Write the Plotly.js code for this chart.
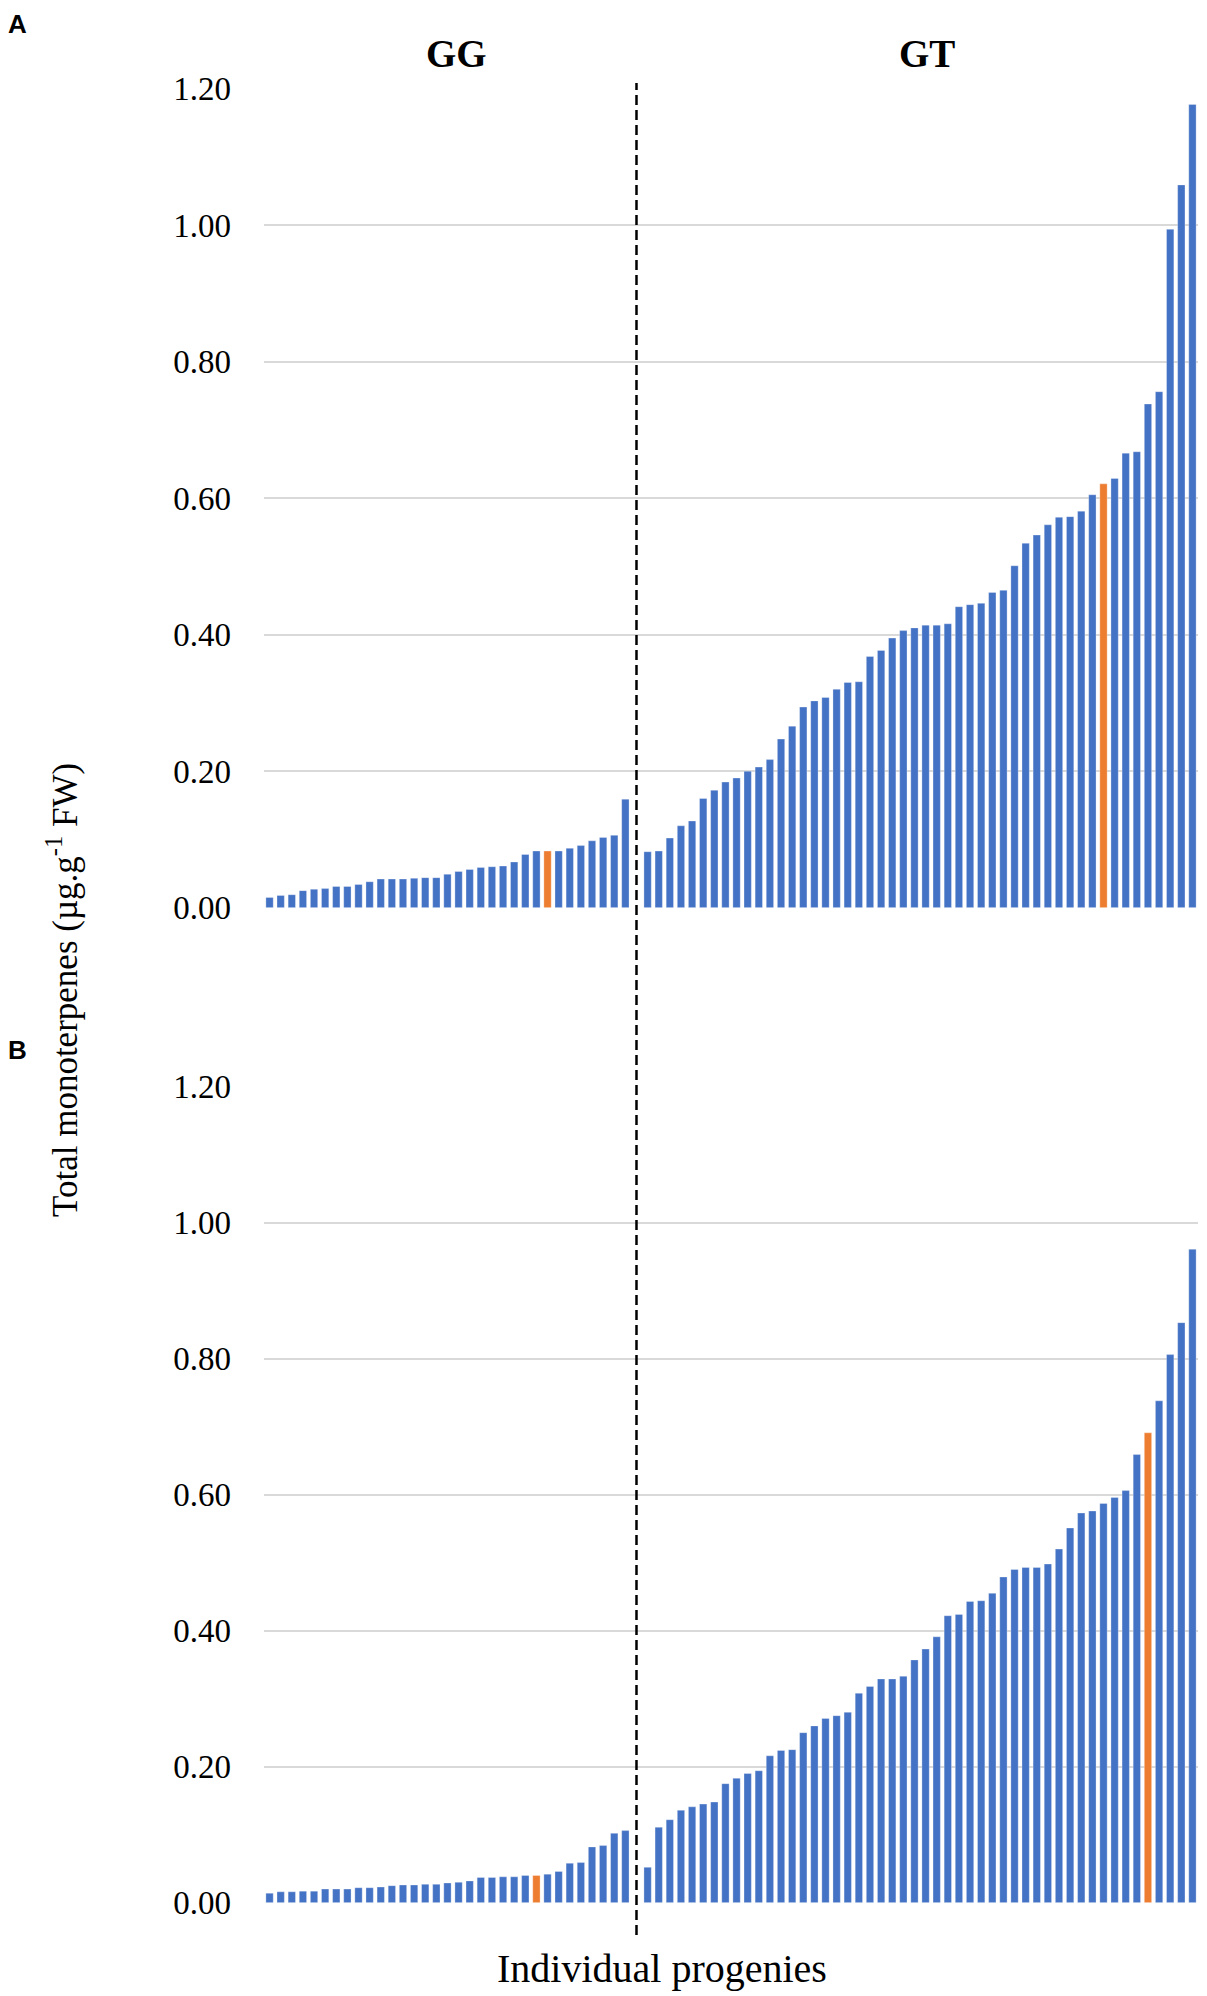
<!DOCTYPE html>
<html>
<head>
<meta charset="utf-8">
<script src="https://cdn.plot.ly/plotly-3.0.1.min.js"></script>
<style>
  html, body { margin: 0; padding: 0; background: #fff; }
  #chart { width: 1207px; height: 1996px; }
</style>
</head>
<body>
<div id="chart"></div>
<script>
// Panel A / B values, sorted progenies per genotype group
const ggA = [0.015, 0.018, 0.019, 0.025, 0.027, 0.028, 0.031, 0.031, 0.034, 0.038, 0.042,
  0.042, 0.042, 0.043, 0.044, 0.044, 0.049, 0.053, 0.056, 0.059, 0.060, 0.061, 0.067,
  0.078, 0.083, 0.083, 0.083, 0.087, 0.091, 0.098, 0.103, 0.106, 0.159];
const gtA = [0.082, 0.083, 0.102, 0.120, 0.127, 0.160, 0.172, 0.184, 0.190, 0.200, 0.206,
  0.217, 0.247, 0.266, 0.294, 0.303, 0.308, 0.320, 0.330, 0.331, 0.368, 0.377, 0.395,
  0.406, 0.410, 0.414, 0.414, 0.416, 0.441, 0.444, 0.446, 0.462, 0.465, 0.501, 0.534,
  0.546, 0.561, 0.572, 0.573, 0.581, 0.605, 0.621, 0.629, 0.666, 0.668, 0.738, 0.756,
  0.994, 1.059, 1.177];
const ggB = [0.014, 0.016, 0.016, 0.017, 0.017, 0.020, 0.020, 0.020, 0.022, 0.022, 0.023,
  0.025, 0.026, 0.026, 0.027, 0.027, 0.029, 0.030, 0.032, 0.037, 0.037, 0.038, 0.038,
  0.040, 0.040, 0.042, 0.046, 0.058, 0.059, 0.082, 0.084, 0.102, 0.106];
const gtB = [0.052, 0.111, 0.122, 0.136, 0.141, 0.145, 0.148, 0.175, 0.183, 0.190, 0.194,
  0.216, 0.224, 0.225, 0.250, 0.260, 0.271, 0.275, 0.280, 0.308, 0.318, 0.329, 0.329,
  0.333, 0.357, 0.373, 0.391, 0.422, 0.424, 0.443, 0.444, 0.455, 0.479, 0.490, 0.493,
  0.493, 0.498, 0.520, 0.551, 0.573, 0.576, 0.587, 0.596, 0.606, 0.659, 0.691, 0.738,
  0.806, 0.853, 0.961];

// highlighted (orange) progeny, index within each group
const hiA = { gg: 25, gt: 41 };
const hiB = { gg: 24, gt: 45 };

const groupLabels = ['GG', 'GT'];
const yTicks = [0, 0.2, 0.4, 0.6, 0.8, 1.0, 1.2];

const W = 1207, H = 1996;
const BLUE = '#4472C4', ORANGE = '#ED7D31';
const SERIF = '"Liberation Serif", "Times New Roman", serif';
const SANS = '"Liberation Sans", Arial, sans-serif';

// pixel -> paper helpers
const px = (v) => v / W;
const py = (v) => 1 - v / H;

function barTrace(gg, gt, hi, xa, ya) {
  // one empty slot between the groups carries the dashed separator
  const x = [], y = [], c = [];
  gg.forEach((v, i) => { x.push(i); y.push(v); c.push(i === hi.gg ? ORANGE : BLUE); });
  gt.forEach((v, i) => { x.push(gg.length + 1 + i); y.push(v); c.push(i === hi.gt ? ORANGE : BLUE); });
  return {
    type: 'bar', x, y, xaxis: xa, yaxis: ya,
    marker: { color: c, line: { color: 'rgba(255,255,255,0.5)', width: 0.6 } },
    hoverinfo: 'y', showlegend: false,
  };
}

const nSlots = ggA.length + 1 + gtA.length;
const sepX = ggA.length;

const traces = [
  barTrace(ggA, gtA, hiA, 'x', 'y'),
  barTrace(ggB, gtB, hiB, 'x2', 'y2'),
];

const xBase = {
  domain: [px(264), px(1198)], range: [-0.5, nSlots - 0.5],
  showgrid: false, zeroline: false, showticklabels: false, showline: false, ticks: '',
};
const yBase = {
  range: [0, 1.2], tickvals: yTicks, tickformat: '.2f',
  showgrid: true, gridcolor: '#d9d9d9', gridwidth: 2, zeroline: false, showline: false,
  ticks: '', ticklabelstandoff: 32,
  tickfont: { family: SERIF, size: 33, color: '#000' },
};

const layout = {
  width: W, height: H,
  margin: { l: 0, r: 0, t: 0, b: 0 },
  paper_bgcolor: '#fff', plot_bgcolor: '#fff',
  bargap: 0.34,
  xaxis: Object.assign({}, xBase, { anchor: 'y' }),
  yaxis: Object.assign({}, yBase, { domain: [py(907.7), py(88.7)], anchor: 'x' }),
  xaxis2: Object.assign({}, xBase, { anchor: 'y2' }),
  yaxis2: Object.assign({}, yBase, { domain: [py(1902.7), py(1086.7)], anchor: 'x2' }),
  shapes: [{
    type: 'line', xref: 'x', yref: 'paper',
    x0: sepX, x1: sepX, y0: py(1935), y1: py(83),
    line: { color: '#000', width: 2.5, dash: '10px,5px' },
  }],
  annotations: [
    { text: '<b>A</b>', x: px(6), y: py(24), xanchor: 'left', yanchor: 'middle',
      font: { family: SANS, size: 26, color: '#000' } },
    { text: '<b>B</b>', x: px(6), y: py(1050), xanchor: 'left', yanchor: 'middle',
      font: { family: SANS, size: 26, color: '#000' } },
    { text: '<b>' + groupLabels[0] + '</b>', x: px(456), y: py(54), xanchor: 'center', yanchor: 'middle',
      font: { family: SERIF, size: 39, color: '#000' } },
    { text: '<b>' + groupLabels[1] + '</b>', x: px(927), y: py(54), xanchor: 'center', yanchor: 'middle',
      font: { family: SERIF, size: 39, color: '#000' } },
    { text: 'Total monoterpenes (µg.g<sup>-1</sup> FW)', x: px(62), y: py(990),
      xanchor: 'center', yanchor: 'middle', textangle: -90,
      font: { family: SERIF, size: 35, color: '#000' } },
    { text: 'Individual progenies', x: px(662), y: py(1993), xanchor: 'center', yanchor: 'bottom',
      font: { family: SERIF, size: 40, color: '#000' } },
  ].map((a) => Object.assign({ xref: 'paper', yref: 'paper', showarrow: false }, a)),
};

Plotly.newPlot('chart', traces, layout, { displayModeBar: false, staticPlot: true });
</script>
</body>
</html>
